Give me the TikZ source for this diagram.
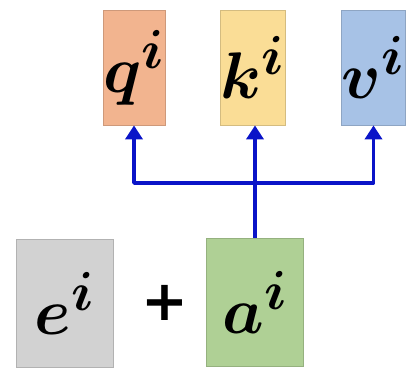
\documentclass[tikz,border=0pt]{standalone}
\usepackage{amsmath}
\usepackage{bm}
\usepackage{graphicx}
\usepackage{fontspec}
\usepackage{tikz}
\usetikzlibrary{arrows.meta, positioning, calc}

\newfontfamily\plusfont{DejaVu Sans}

\definecolor{qfill}{HTML}{F2B48F}
\definecolor{kfill}{HTML}{FADD96}
\definecolor{vfill}{HTML}{A7C2E6}
\definecolor{efill}{HTML}{D2D2D2}
\definecolor{afill}{HTML}{AFD095}
\definecolor{linkblue}{HTML}{0A14C8}

\newcommand{\bigsym}[1]{\scalebox{2.65}{\Huge$\bm{#1}$}}

\begin{document}
\begin{tikzpicture}[x=1pt, y=1pt,
    vec/.style={draw, line width=0.8pt, inner sep=0pt},
    small/.style={vec, minimum width=62pt, minimum height=115pt},
    big/.style={vec, minimum width=97pt, minimum height=128pt},
    link/.style={draw=linkblue, line width=3.5pt, line join=round,
        -{Triangle[width=17pt, length=14pt]}}]
    \useasboundingbox (0, 0) rectangle (410, 375);

    \node[small, fill=qfill, draw=qfill!85!black] (q) at (134, 307.5) {\bigsym{q^i}};
    \node[small, fill=kfill, draw=kfill!85!black] (k) at (253, 307.5) {\bigsym{k^i}};
    \node[small, fill=vfill, draw=vfill!85!black] (v) at (373.5, 307.5) {\bigsym{v^i}};

    \node[big, fill=efill, draw=efill!85!black] (e) at (65, 72) {\bigsym{e^i}};
    \node[big, fill=afill, draw=afill!85!black] (a) at (255, 73) {\bigsym{a^i}};
    \node[font=\plusfont\bfseries\fontsize{56}{56}\selectfont] (plus) at (165, 72) {+};

    \coordinate (jn) at (a.north |- 0, 192);

    \draw[link] (a.north) -- (a.north |- k.south);
    \draw[link] (jn) -| (q.south);
    \draw[link] (jn) -| (v.south);
\end{tikzpicture}
\end{document}
